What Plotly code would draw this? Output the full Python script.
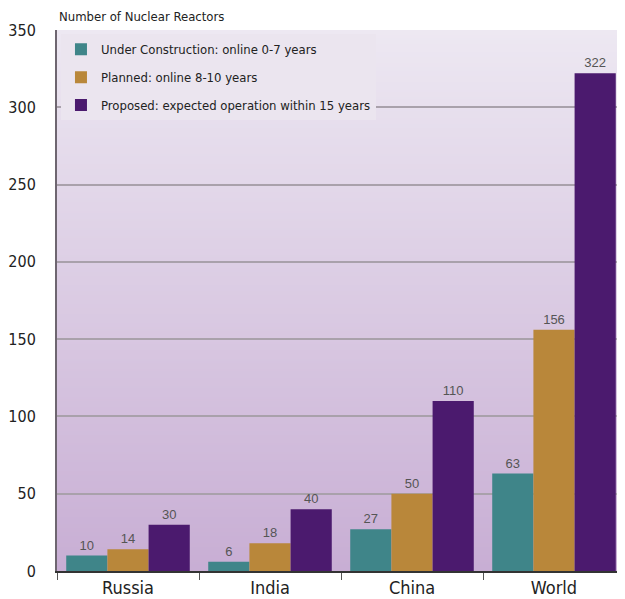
import base64
import struct
import zlib

import plotly.graph_objects as go

# ---- data ----
categories = ["Russia", "India", "China", "World"]
under_construction = [10, 6, 27, 63]
planned = [14, 18, 50, 156]
proposed = [30, 40, 110, 322]
series_names = [
    "Under Construction: online 0-7 years",
    "Planned: online 8-10 years",
    "Proposed: expected operation within 15 years",
]
y_tick_values = [0, 50, 100, 150, 200, 250, 300, 350]

# ---- styling ----
series_colors = ["#3f8589", "#b9873a", "#4b1a6e"]
COND = "DejaVu Sans Condensed, Liberation Sans Narrow, sans-serif"
LABEL_FONT = "Liberation Sans, Arial, sans-serif"


def gradient_png(top, bottom, height=256):
    def hex2rgb(h):
        h = h.lstrip("#")
        return tuple(int(h[i:i + 2], 16) for i in (0, 2, 4))
    t, b = hex2rgb(top), hex2rgb(bottom)
    raw = b""
    for i in range(height):
        f = i / (height - 1)
        px = bytes(int(round(t[k] + (b[k] - t[k]) * f)) for k in range(3))
        raw += b"\x00" + px
    def chunk(tag, data):
        c = struct.pack(">I", len(data)) + tag + data
        return c + struct.pack(">I", zlib.crc32(tag + data) & 0xFFFFFFFF)
    png = b"\x89PNG\r\n\x1a\n"
    png += chunk(b"IHDR", struct.pack(">IIBBBBB", 1, height, 8, 2, 0, 0, 0))
    png += chunk(b"IDAT", zlib.compress(raw))
    png += chunk(b"IEND", b"")
    return "data:image/png;base64," + base64.b64encode(png).decode()


fig = go.Figure()
for i, (name, vals) in enumerate(zip(series_names, [under_construction, planned, proposed])):
    fig.add_trace(go.Bar(
        x=categories, y=vals, name=name,
        marker=dict(color=series_colors[i], line=dict(width=0)),
        text=[str(v) for v in vals], textposition="outside",
        textfont=dict(family=LABEL_FONT, size=13, color="#555555"),
        cliponaxis=False, legendgroup=f"g{i}",
    ))

# the page body adds an 8px offset, so the figure is 617x591
fig.update_layout(
    width=617, height=591,
    margin=dict(l=49, r=0, t=22, b=28, autoexpand=False),
    paper_bgcolor="white",
    plot_bgcolor="rgba(0,0,0,0)",
    barmode="group", bargap=0.13, bargroupgap=0,
    showlegend=True,
    legend=dict(
        x=0.007, y=0.992, xanchor="left", yanchor="top",
        bgcolor="#ebe5ef", borderwidth=0,
        font=dict(family=COND, size=13, color="#222222"),
        tracegroupgap=8, traceorder="grouped",
    ),
    images=[dict(
        source=gradient_png("#ede8f2", "#c8aed4"),
        xref="paper", yref="paper", x=0, y=1, sizex=1, sizey=1,
        sizing="stretch", layer="below", xanchor="left", yanchor="top",
    )],
    annotations=[dict(
        text="Number of Nuclear Reactors", xref="paper", yref="paper",
        x=0, y=1.025, xanchor="left", yanchor="middle", showarrow=False,
        font=dict(family=COND, size=13, color="#222222"),
    )],
    font=dict(family=COND, color="#222222"),
)
fig.update_xaxes(
    type="category", tickson="boundaries", ticks="outside", ticklen=7,
    tickcolor="#555555", tickwidth=1, automargin=False,
    showline=True, linecolor="#333333", linewidth=1.5,
    tickfont=dict(family=COND, size=18, color="#222222"),
    showgrid=False,
)
fig.update_yaxes(
    range=[0, 350], tickvals=y_tick_values, showgrid=True,
    gridcolor="#a9a1ab", gridwidth=1.5, zeroline=False,
    showline=True, linecolor="#6e6670", linewidth=2,
    ticks="", ticklabelstandoff=16, automargin=False,
    tickfont=dict(family=COND, size=16, color="#222222"),
)

fig.write_html("out.html")
